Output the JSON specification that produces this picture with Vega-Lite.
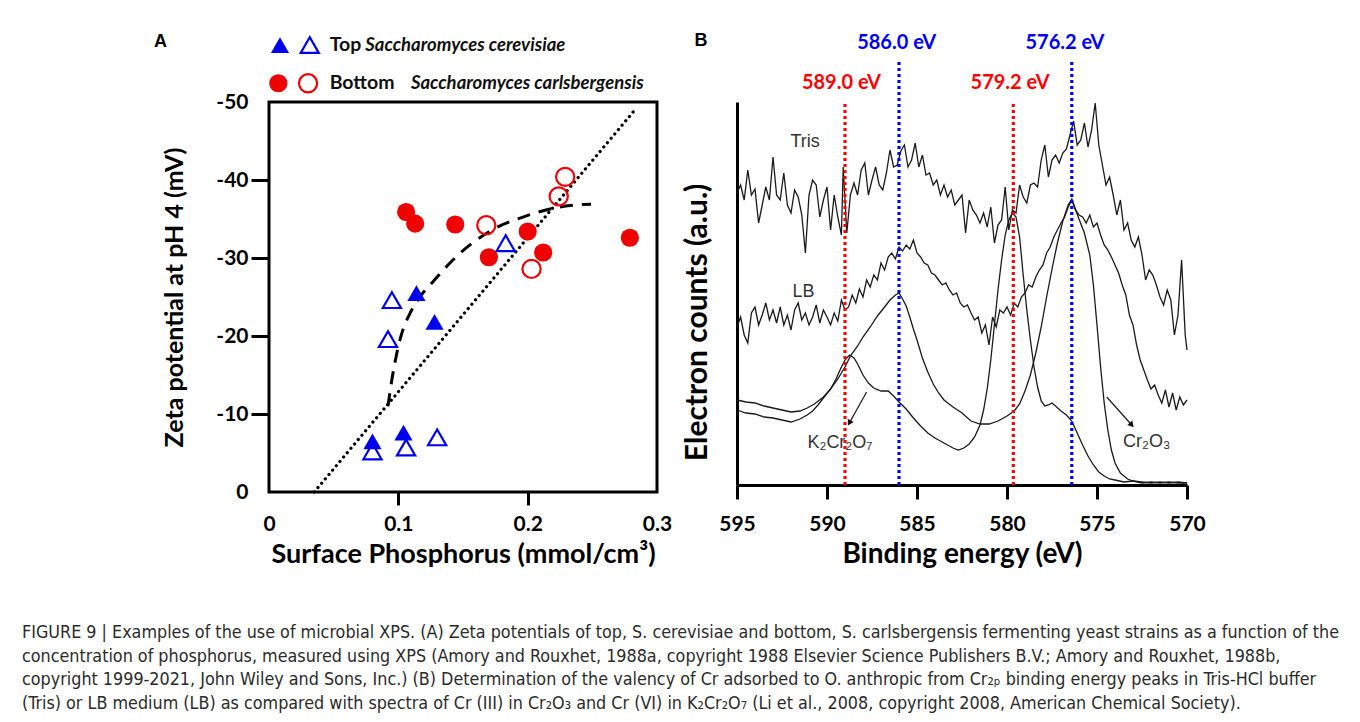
{
  "$schema": "https://vega.github.io/schema/vega-lite/v6.json",
  "autosize": {"type": "none"},
  "padding": {"left": 269, "top": 102, "right": 1091, "bottom": 620},
  "background": "white",
  "bounds": "flush",
  "spacing": 80,
  "resolve": {"scale": {"color": "independent", "shape": "independent"}},
  "config": {"font": "Lato", "view": {"stroke": null}},
  "title": {
    "text": [
      "FIGURE 9 | Examples of the use of microbial XPS. (A) Zeta potentials of top, S. cerevisiae and bottom, S. carlsbergensis fermenting yeast strains as a function of the",
      "concentration of phosphorus, measured using XPS (Amory and Rouxhet, 1988a, copyright 1988 Elsevier Science Publishers B.V.; Amory and Rouxhet, 1988b,",
      "copyright 1999-2021, John Wiley and Sons, Inc.) (B) Determination of the valency of Cr adsorbed to O. anthropic from Cr₂ₚ binding energy peaks in Tris-HCl buffer",
      "(Tris) or LB medium (LB) as compared with spectra of Cr (III) in Cr₂O₃ and Cr (VI) in K₂Cr₂O₇ (Li et al., 2008, copyright 2008, American Chemical Society)."
    ],
    "orient": "bottom",
    "anchor": "start",
    "frame": "group",
    "offset": 55.5,
    "dx": -247,
    "font": "Liberation Sans Narrow, DejaVu Sans Condensed, sans-serif",
    "fontSize": 17.8,
    "fontWeight": "normal",
    "color": "#2b2b2b",
    "lineHeight": 23.5
  },
  "datasets": {
    "points": [
      {"p": 0.106, "z": -35.9, "sp": "Bottom", "kind": "filled"},
      {"p": 0.113, "z": -34.4, "sp": "Bottom", "kind": "filled"},
      {"p": 0.144, "z": -34.3, "sp": "Bottom", "kind": "filled"},
      {"p": 0.170, "z": -30.1, "sp": "Bottom", "kind": "filled"},
      {"p": 0.200, "z": -33.4, "sp": "Bottom", "kind": "filled"},
      {"p": 0.212, "z": -30.7, "sp": "Bottom", "kind": "filled"},
      {"p": 0.279, "z": -32.6, "sp": "Bottom", "kind": "filled"},
      {"p": 0.168, "z": -34.2, "sp": "Bottom", "kind": "open"},
      {"p": 0.229, "z": -40.4, "sp": "Bottom", "kind": "open"},
      {"p": 0.224, "z": -37.9, "sp": "Bottom", "kind": "open"},
      {"p": 0.203, "z": -28.6, "sp": "Bottom", "kind": "open"},
      {"p": 0.114, "z": -25.5, "sp": "Top", "kind": "filled"},
      {"p": 0.128, "z": -21.8, "sp": "Top", "kind": "filled"},
      {"p": 0.080, "z": -6.5, "sp": "Top", "kind": "filled"},
      {"p": 0.104, "z": -7.6, "sp": "Top", "kind": "filled"},
      {"p": 0.095, "z": -24.6, "sp": "Top", "kind": "open"},
      {"p": 0.092, "z": -19.6, "sp": "Top", "kind": "open"},
      {"p": 0.183, "z": -31.9, "sp": "Top", "kind": "open"},
      {"p": 0.080, "z": -5.2, "sp": "Top", "kind": "open"},
      {"p": 0.106, "z": -5.7, "sp": "Top", "kind": "open"},
      {"p": 0.130, "z": -7.0, "sp": "Top", "kind": "open"}
    ],
    "legendSymbols": [
      {"p": 0.0085, "z": -57.3, "sp": "Top", "kind": "filled"},
      {"p": 0.0315, "z": -57.3, "sp": "Top", "kind": "open"},
      {"p": 0.0072, "z": -52.4, "sp": "Bottom", "kind": "filled"},
      {"p": 0.0302, "z": -52.4, "sp": "Bottom", "kind": "open"}
    ],
    "legendText": [
      {"p": 0.0469, "z": -57.3, "label": "Top", "part": "group"},
      {"p": 0.0745, "z": -57.3, "label": "Saccharomyces cerevisiae", "part": "species"},
      {"p": 0.0469, "z": -52.4, "label": "Bottom", "part": "group"},
      {"p": 0.1097, "z": -52.4, "label": "Saccharomyces carlsbergensis", "part": "species"}
    ],
    "fitLinear": [
      {"p": 0.035, "z": 0},
      {"p": 0.283, "z": -49}
    ],
    "fitCurve": [
      {"p": 0.092, "z": -11.0},
      {"p": 0.0949, "z": -14.3},
      {"p": 0.0987, "z": -17.7},
      {"p": 0.1026, "z": -20.3},
      {"p": 0.109, "z": -22.9},
      {"p": 0.1167, "z": -25.0},
      {"p": 0.127, "z": -27.0},
      {"p": 0.145, "z": -30.2},
      {"p": 0.1705, "z": -33.4},
      {"p": 0.199, "z": -35.4},
      {"p": 0.227, "z": -36.6},
      {"p": 0.249, "z": -36.9}
    ],
    "panelA": [{"p": -0.0838, "z": -57.7, "label": "A"}],
    "spectra": [
      {"s":"Tris","E":595.0,"c":292},{"s":"Tris","E":594.8,"c":300},{"s":"Tris","E":594.6,"c":285},{"s":"Tris","E":594.4,"c":315},{"s":"Tris","E":594.2,"c":290},
      {"s":"Tris","E":594.0,"c":296},{"s":"Tris","E":593.8,"c":262},{"s":"Tris","E":593.6,"c":280},{"s":"Tris","E":593.4,"c":298},{"s":"Tris","E":593.2,"c":285},
      {"s":"Tris","E":593.0,"c":328},{"s":"Tris","E":592.8,"c":290},{"s":"Tris","E":592.6,"c":285},{"s":"Tris","E":592.4,"c":312},{"s":"Tris","E":592.2,"c":280},
      {"s":"Tris","E":592.0,"c":272},{"s":"Tris","E":591.8,"c":295},{"s":"Tris","E":591.6,"c":288},{"s":"Tris","E":591.4,"c":270},{"s":"Tris","E":591.2,"c":232},
      {"s":"Tris","E":591.0,"c":290},{"s":"Tris","E":590.8,"c":305},{"s":"Tris","E":590.6,"c":300},{"s":"Tris","E":590.4,"c":268},{"s":"Tris","E":590.2,"c":285},
      {"s":"Tris","E":590.0,"c":298},{"s":"Tris","E":589.8,"c":255},{"s":"Tris","E":589.6,"c":290},{"s":"Tris","E":589.4,"c":268},{"s":"Tris","E":589.2,"c":250},
      {"s":"Tris","E":589.1,"c":318},{"s":"Tris","E":588.9,"c":252},{"s":"Tris","E":588.7,"c":290},{"s":"Tris","E":588.5,"c":302},{"s":"Tris","E":588.3,"c":290},
      {"s":"Tris","E":588.1,"c":315},{"s":"Tris","E":587.9,"c":322},{"s":"Tris","E":587.7,"c":290},{"s":"Tris","E":587.5,"c":305},{"s":"Tris","E":587.3,"c":318},
      {"s":"Tris","E":587.1,"c":300},{"s":"Tris","E":586.9,"c":295},{"s":"Tris","E":586.7,"c":312},{"s":"Tris","E":586.5,"c":335},{"s":"Tris","E":586.3,"c":318},
      {"s":"Tris","E":586.1,"c":320},{"s":"Tris","E":585.9,"c":334},{"s":"Tris","E":585.7,"c":340},{"s":"Tris","E":585.5,"c":318},{"s":"Tris","E":585.3,"c":325},
      {"s":"Tris","E":585.1,"c":342},{"s":"Tris","E":584.9,"c":318},{"s":"Tris","E":584.7,"c":330},{"s":"Tris","E":584.5,"c":310},{"s":"Tris","E":584.3,"c":312},
      {"s":"Tris","E":584.1,"c":300},{"s":"Tris","E":583.9,"c":305},{"s":"Tris","E":583.7,"c":290},{"s":"Tris","E":583.5,"c":300},{"s":"Tris","E":583.3,"c":288},
      {"s":"Tris","E":583.1,"c":295},{"s":"Tris","E":582.9,"c":280},{"s":"Tris","E":582.7,"c":285},{"s":"Tris","E":582.5,"c":290},{"s":"Tris","E":582.3,"c":252},
      {"s":"Tris","E":582.1,"c":285},{"s":"Tris","E":581.9,"c":275},{"s":"Tris","E":581.7,"c":270},{"s":"Tris","E":581.5,"c":262},{"s":"Tris","E":581.3,"c":272},
      {"s":"Tris","E":581.1,"c":258},{"s":"Tris","E":580.9,"c":278},{"s":"Tris","E":580.7,"c":242},{"s":"Tris","E":580.5,"c":260},{"s":"Tris","E":580.3,"c":265},
      {"s":"Tris","E":580.1,"c":298},{"s":"Tris","E":579.9,"c":255},{"s":"Tris","E":579.7,"c":275},{"s":"Tris","E":579.5,"c":272},{"s":"Tris","E":579.3,"c":300},
      {"s":"Tris","E":579.1,"c":288},{"s":"Tris","E":578.9,"c":282},{"s":"Tris","E":578.7,"c":300},{"s":"Tris","E":578.5,"c":302},{"s":"Tris","E":578.3,"c":298},
      {"s":"Tris","E":578.1,"c":325},{"s":"Tris","E":577.9,"c":340},{"s":"Tris","E":577.7,"c":308},{"s":"Tris","E":577.5,"c":325},{"s":"Tris","E":577.3,"c":330},
      {"s":"Tris","E":577.1,"c":322},{"s":"Tris","E":576.9,"c":332},{"s":"Tris","E":576.7,"c":336},{"s":"Tris","E":576.5,"c":350},{"s":"Tris","E":576.3,"c":364},
      {"s":"Tris","E":576.1,"c":340},{"s":"Tris","E":575.9,"c":345},{"s":"Tris","E":575.7,"c":362},{"s":"Tris","E":575.5,"c":338},{"s":"Tris","E":575.3,"c":355},
      {"s":"Tris","E":575.1,"c":382},{"s":"Tris","E":574.9,"c":340},{"s":"Tris","E":574.7,"c":320},{"s":"Tris","E":574.5,"c":300},{"s":"Tris","E":574.3,"c":308},
      {"s":"Tris","E":574.1,"c":290},{"s":"Tris","E":573.9,"c":270},{"s":"Tris","E":573.7,"c":285},{"s":"Tris","E":573.5,"c":255},{"s":"Tris","E":573.3,"c":262},
      {"s":"Tris","E":573.1,"c":245},{"s":"Tris","E":572.9,"c":238},{"s":"Tris","E":572.7,"c":248},{"s":"Tris","E":572.5,"c":230},{"s":"Tris","E":572.3,"c":205},
      {"s":"Tris","E":572.1,"c":215},{"s":"Tris","E":571.9,"c":210},{"s":"Tris","E":571.7,"c":200},{"s":"Tris","E":571.5,"c":188},{"s":"Tris","E":571.3,"c":180},
      {"s":"Tris","E":571.1,"c":195},{"s":"Tris","E":570.9,"c":185},{"s":"Tris","E":570.7,"c":150},{"s":"Tris","E":570.5,"c":170},{"s":"Tris","E":570.3,"c":225},
      {"s":"Tris","E":570.1,"c":150},{"s":"Tris","E":570.0,"c":135},

      {"s":"LB","E":595.0,"c":158},{"s":"LB","E":594.8,"c":168},{"s":"LB","E":594.6,"c":150},{"s":"LB","E":594.4,"c":142},{"s":"LB","E":594.2,"c":172},
      {"s":"LB","E":594.0,"c":178},{"s":"LB","E":593.8,"c":160},{"s":"LB","E":593.6,"c":170},{"s":"LB","E":593.4,"c":182},{"s":"LB","E":593.2,"c":165},
      {"s":"LB","E":593.0,"c":175},{"s":"LB","E":592.8,"c":162},{"s":"LB","E":592.6,"c":178},{"s":"LB","E":592.4,"c":160},{"s":"LB","E":592.2,"c":170},
      {"s":"LB","E":592.0,"c":155},{"s":"LB","E":591.8,"c":175},{"s":"LB","E":591.6,"c":182},{"s":"LB","E":591.4,"c":165},{"s":"LB","E":591.2,"c":172},
      {"s":"LB","E":591.0,"c":160},{"s":"LB","E":590.8,"c":168},{"s":"LB","E":590.6,"c":180},{"s":"LB","E":590.4,"c":162},{"s":"LB","E":590.2,"c":175},
      {"s":"LB","E":590.0,"c":168},{"s":"LB","E":589.8,"c":160},{"s":"LB","E":589.6,"c":172},{"s":"LB","E":589.4,"c":164},{"s":"LB","E":589.2,"c":185},
      {"s":"LB","E":589.0,"c":175},{"s":"LB","E":588.8,"c":178},{"s":"LB","E":588.6,"c":190},{"s":"LB","E":588.4,"c":182},{"s":"LB","E":588.2,"c":196},
      {"s":"LB","E":588.0,"c":188},{"s":"LB","E":587.8,"c":205},{"s":"LB","E":587.6,"c":198},{"s":"LB","E":587.4,"c":210},{"s":"LB","E":587.2,"c":205},
      {"s":"LB","E":587.0,"c":222},{"s":"LB","E":586.8,"c":215},{"s":"LB","E":586.6,"c":228},{"s":"LB","E":586.4,"c":232},{"s":"LB","E":586.2,"c":226},
      {"s":"LB","E":586.0,"c":238},{"s":"LB","E":585.8,"c":234},{"s":"LB","E":585.6,"c":240},{"s":"LB","E":585.4,"c":236},{"s":"LB","E":585.2,"c":245},
      {"s":"LB","E":585.0,"c":232},{"s":"LB","E":584.8,"c":228},{"s":"LB","E":584.6,"c":222},{"s":"LB","E":584.4,"c":220},{"s":"LB","E":584.2,"c":212},
      {"s":"LB","E":584.0,"c":210},{"s":"LB","E":583.8,"c":205},{"s":"LB","E":583.6,"c":200},{"s":"LB","E":583.4,"c":202},{"s":"LB","E":583.2,"c":195},
      {"s":"LB","E":583.0,"c":190},{"s":"LB","E":582.8,"c":192},{"s":"LB","E":582.6,"c":182},{"s":"LB","E":582.4,"c":178},{"s":"LB","E":582.2,"c":180},
      {"s":"LB","E":582.0,"c":172},{"s":"LB","E":581.8,"c":165},{"s":"LB","E":581.6,"c":168},{"s":"LB","E":581.4,"c":152},{"s":"LB","E":581.2,"c":160},
      {"s":"LB","E":581.0,"c":140},{"s":"LB","E":580.8,"c":168},{"s":"LB","E":580.6,"c":158},{"s":"LB","E":580.4,"c":175},{"s":"LB","E":580.2,"c":172},
      {"s":"LB","E":580.0,"c":178},{"s":"LB","E":579.8,"c":170},{"s":"LB","E":579.6,"c":182},{"s":"LB","E":579.4,"c":178},{"s":"LB","E":579.2,"c":188},
      {"s":"LB","E":579.0,"c":192},{"s":"LB","E":578.8,"c":200},{"s":"LB","E":578.6,"c":198},{"s":"LB","E":578.4,"c":208},{"s":"LB","E":578.2,"c":215},
      {"s":"LB","E":578.0,"c":220},{"s":"LB","E":577.8,"c":232},{"s":"LB","E":577.6,"c":238},{"s":"LB","E":577.4,"c":248},{"s":"LB","E":577.2,"c":255},
      {"s":"LB","E":577.0,"c":262},{"s":"LB","E":576.8,"c":268},{"s":"LB","E":576.6,"c":278},{"s":"LB","E":576.4,"c":285},{"s":"LB","E":576.2,"c":275},
      {"s":"LB","E":576.0,"c":270},{"s":"LB","E":575.8,"c":268},{"s":"LB","E":575.6,"c":262},{"s":"LB","E":575.4,"c":270},{"s":"LB","E":575.2,"c":258},
      {"s":"LB","E":575.0,"c":262},{"s":"LB","E":574.8,"c":250},{"s":"LB","E":574.6,"c":240},{"s":"LB","E":574.4,"c":235},{"s":"LB","E":574.2,"c":228},
      {"s":"LB","E":574.0,"c":220},{"s":"LB","E":573.8,"c":212},{"s":"LB","E":573.6,"c":200},{"s":"LB","E":573.4,"c":190},{"s":"LB","E":573.2,"c":170},
      {"s":"LB","E":573.0,"c":160},{"s":"LB","E":572.8,"c":140},{"s":"LB","E":572.6,"c":125},{"s":"LB","E":572.4,"c":115},{"s":"LB","E":572.2,"c":105},
      {"s":"LB","E":572.0,"c":96},{"s":"LB","E":571.8,"c":100},{"s":"LB","E":571.6,"c":90},{"s":"LB","E":571.4,"c":82},{"s":"LB","E":571.2,"c":95},
      {"s":"LB","E":571.0,"c":78},{"s":"LB","E":570.8,"c":92},{"s":"LB","E":570.6,"c":75},{"s":"LB","E":570.4,"c":88},{"s":"LB","E":570.2,"c":80},
      {"s":"LB","E":570.0,"c":85},

      {"s":"K2Cr2O7","E":595.0,"c":75},{"s":"K2Cr2O7","E":594.5,"c":72},{"s":"K2Cr2O7","E":594.0,"c":71},{"s":"K2Cr2O7","E":593.5,"c":68},
      {"s":"K2Cr2O7","E":593.0,"c":67},{"s":"K2Cr2O7","E":592.5,"c":65},{"s":"K2Cr2O7","E":592.0,"c":63},{"s":"K2Cr2O7","E":591.5,"c":66},
      {"s":"K2Cr2O7","E":591.1,"c":70},{"s":"K2Cr2O7","E":590.8,"c":74},{"s":"K2Cr2O7","E":590.5,"c":80},{"s":"K2Cr2O7","E":590.2,"c":87},
      {"s":"K2Cr2O7","E":589.8,"c":96},{"s":"K2Cr2O7","E":589.5,"c":106},{"s":"K2Cr2O7","E":589.2,"c":118},{"s":"K2Cr2O7","E":589.0,"c":125},
      {"s":"K2Cr2O7","E":588.75,"c":130},{"s":"K2Cr2O7","E":588.5,"c":127},{"s":"K2Cr2O7","E":588.3,"c":121},{"s":"K2Cr2O7","E":588.0,"c":110},
      {"s":"K2Cr2O7","E":587.7,"c":102},{"s":"K2Cr2O7","E":587.4,"c":97},{"s":"K2Cr2O7","E":587.0,"c":94},{"s":"K2Cr2O7","E":586.6,"c":94},
      {"s":"K2Cr2O7","E":586.3,"c":89},{"s":"K2Cr2O7","E":586.0,"c":83},{"s":"K2Cr2O7","E":585.6,"c":76},{"s":"K2Cr2O7","E":585.2,"c":67},
      {"s":"K2Cr2O7","E":584.8,"c":59},{"s":"K2Cr2O7","E":584.4,"c":52},{"s":"K2Cr2O7","E":584.0,"c":47},{"s":"K2Cr2O7","E":583.5,"c":42},
      {"s":"K2Cr2O7","E":583.0,"c":37},{"s":"K2Cr2O7","E":582.7,"c":35},{"s":"K2Cr2O7","E":582.4,"c":37},{"s":"K2Cr2O7","E":582.1,"c":41},
      {"s":"K2Cr2O7","E":581.8,"c":48},{"s":"K2Cr2O7","E":581.5,"c":60},{"s":"K2Cr2O7","E":581.3,"c":75},{"s":"K2Cr2O7","E":581.1,"c":96},
      {"s":"K2Cr2O7","E":580.9,"c":125},{"s":"K2Cr2O7","E":580.7,"c":160},{"s":"K2Cr2O7","E":580.5,"c":195},{"s":"K2Cr2O7","E":580.3,"c":225},
      {"s":"K2Cr2O7","E":580.1,"c":250},{"s":"K2Cr2O7","E":579.9,"c":265},{"s":"K2Cr2O7","E":579.7,"c":272},{"s":"K2Cr2O7","E":579.5,"c":268},
      {"s":"K2Cr2O7","E":579.3,"c":248},{"s":"K2Cr2O7","E":579.1,"c":210},{"s":"K2Cr2O7","E":578.9,"c":175},{"s":"K2Cr2O7","E":578.7,"c":145},
      {"s":"K2Cr2O7","E":578.5,"c":118},{"s":"K2Cr2O7","E":578.3,"c":98},{"s":"K2Cr2O7","E":578.1,"c":84},{"s":"K2Cr2O7","E":577.9,"c":79},
      {"s":"K2Cr2O7","E":577.7,"c":80},{"s":"K2Cr2O7","E":577.5,"c":82},{"s":"K2Cr2O7","E":577.3,"c":79},{"s":"K2Cr2O7","E":577.0,"c":74},
      {"s":"K2Cr2O7","E":576.7,"c":70},{"s":"K2Cr2O7","E":576.4,"c":64},{"s":"K2Cr2O7","E":576.1,"c":52},{"s":"K2Cr2O7","E":575.8,"c":40},
      {"s":"K2Cr2O7","E":575.5,"c":29},{"s":"K2Cr2O7","E":575.2,"c":20},{"s":"K2Cr2O7","E":574.9,"c":13},{"s":"K2Cr2O7","E":574.6,"c":9},
      {"s":"K2Cr2O7","E":574.3,"c":6},{"s":"K2Cr2O7","E":574.0,"c":5},{"s":"K2Cr2O7","E":573.5,"c":3},{"s":"K2Cr2O7","E":573.0,"c":4},
      {"s":"K2Cr2O7","E":572.5,"c":2},{"s":"K2Cr2O7","E":572.0,"c":3},{"s":"K2Cr2O7","E":571.5,"c":2},{"s":"K2Cr2O7","E":571.0,"c":3},
      {"s":"K2Cr2O7","E":570.5,"c":2},{"s":"K2Cr2O7","E":570.0,"c":2},

      {"s":"Cr2O3","E":595.0,"c":85},{"s":"Cr2O3","E":594.5,"c":83},{"s":"Cr2O3","E":594.0,"c":82},{"s":"Cr2O3","E":593.5,"c":79},
      {"s":"Cr2O3","E":593.0,"c":77},{"s":"Cr2O3","E":592.5,"c":75},{"s":"Cr2O3","E":592.0,"c":73},{"s":"Cr2O3","E":591.5,"c":74},
      {"s":"Cr2O3","E":591.1,"c":77},{"s":"Cr2O3","E":590.7,"c":81},{"s":"Cr2O3","E":590.2,"c":88},{"s":"Cr2O3","E":589.8,"c":96},
      {"s":"Cr2O3","E":589.4,"c":106},{"s":"Cr2O3","E":589.0,"c":118},{"s":"Cr2O3","E":588.7,"c":129},{"s":"Cr2O3","E":588.3,"c":139},
      {"s":"Cr2O3","E":588.0,"c":148},{"s":"Cr2O3","E":587.6,"c":158},{"s":"Cr2O3","E":587.2,"c":169},{"s":"Cr2O3","E":586.8,"c":178},
      {"s":"Cr2O3","E":586.5,"c":185},{"s":"Cr2O3","E":586.2,"c":190},{"s":"Cr2O3","E":586.0,"c":192},{"s":"Cr2O3","E":585.8,"c":186},
      {"s":"Cr2O3","E":585.6,"c":179},{"s":"Cr2O3","E":585.4,"c":168},{"s":"Cr2O3","E":585.2,"c":156},{"s":"Cr2O3","E":585.0,"c":145},
      {"s":"Cr2O3","E":584.7,"c":127},{"s":"Cr2O3","E":584.4,"c":113},{"s":"Cr2O3","E":584.1,"c":101},{"s":"Cr2O3","E":583.8,"c":92},
      {"s":"Cr2O3","E":583.5,"c":85},{"s":"Cr2O3","E":583.0,"c":78},{"s":"Cr2O3","E":582.5,"c":72},{"s":"Cr2O3","E":582.0,"c":64},
      {"s":"Cr2O3","E":581.5,"c":61},{"s":"Cr2O3","E":581.0,"c":61},{"s":"Cr2O3","E":580.5,"c":64},{"s":"Cr2O3","E":580.0,"c":69},
      {"s":"Cr2O3","E":579.6,"c":74},{"s":"Cr2O3","E":579.3,"c":81},{"s":"Cr2O3","E":579.0,"c":94},{"s":"Cr2O3","E":578.7,"c":110},
      {"s":"Cr2O3","E":578.4,"c":132},{"s":"Cr2O3","E":578.1,"c":158},{"s":"Cr2O3","E":577.8,"c":188},{"s":"Cr2O3","E":577.5,"c":216},
      {"s":"Cr2O3","E":577.2,"c":242},{"s":"Cr2O3","E":576.9,"c":264},{"s":"Cr2O3","E":576.6,"c":280},{"s":"Cr2O3","E":576.4,"c":286},
      {"s":"Cr2O3","E":576.2,"c":276},{"s":"Cr2O3","E":576.0,"c":266},{"s":"Cr2O3","E":575.7,"c":252},{"s":"Cr2O3","E":575.4,"c":230},
      {"s":"Cr2O3","E":575.2,"c":200},{"s":"Cr2O3","E":575.0,"c":160},{"s":"Cr2O3","E":574.8,"c":118},{"s":"Cr2O3","E":574.6,"c":82},
      {"s":"Cr2O3","E":574.4,"c":55},{"s":"Cr2O3","E":574.2,"c":35},{"s":"Cr2O3","E":574.0,"c":22},{"s":"Cr2O3","E":573.7,"c":12},
      {"s":"Cr2O3","E":573.3,"c":6},{"s":"Cr2O3","E":573.0,"c":4},{"s":"Cr2O3","E":572.5,"c":3},{"s":"Cr2O3","E":572.0,"c":2},
      {"s":"Cr2O3","E":571.5,"c":3},{"s":"Cr2O3","E":571.0,"c":2},{"s":"Cr2O3","E":570.5,"c":3},{"s":"Cr2O3","E":570.0,"c":2}
    ],
    "vlines": [
      {"E": 589.0, "c": 0, "top": 382, "state": "Cr(VI)"},
      {"E": 586.0, "c": 0, "top": 423, "state": "Cr(III)"},
      {"E": 579.65, "c": 0, "top": 382, "state": "Cr(VI)"},
      {"E": 576.4, "c": 0, "top": 423, "state": "Cr(III)"}
    ],
    "evLabels": [
      {"E": 589.2, "c": 402, "label": "589.0 eV", "state": "Cr(VI)"},
      {"E": 586.13, "c": 442, "label": "586.0 eV", "state": "Cr(III)"},
      {"E": 579.83, "c": 402, "label": "579.2 eV", "state": "Cr(VI)"},
      {"E": 576.78, "c": 442, "label": "576.2 eV", "state": "Cr(III)"}
    ],
    "curveLabels": [
      {"E": 591.22, "c": 343, "label": "Tris"},
      {"E": 591.31, "c": 193, "label": "LB"},
      {"E": 589.28, "c": 42, "label": "K₂Cr₂O₇"},
      {"E": 572.24, "c": 43, "label": "Cr₂O₃"}
    ],
    "arrows": [
      {"ref": "K2Cr2O7", "E": 587.8, "c": 93, "E2": 588.76, "c2": 62},
      {"ref": "Cr2O3", "E": 574.46, "c": 88, "E2": 573.07, "c2": 60}
    ],
    "panelB": [{"E": 597.0, "c": 444, "label": "B"}]
  },
  "hconcat": [
    {
      "width": 388,
      "height": 390,
      "view": {"stroke": "black", "strokeWidth": 3},
      "encoding": {
        "x": {
          "field": "p", "type": "quantitative",
          "scale": {"domain": [0, 0.3], "nice": false, "zero": false},
          "axis": {
            "title": "Surface Phosphorus (mmol/cm³)",
            "values": [0, 0.1, 0.2, 0.3], "format": "~g",
            "domain": false, "grid": false,
            "tickSize": 13, "tickWidth": 3, "tickColor": "black",
            "tickOpacity": {"condition": {"test": "datum.value == 0 || datum.value == 0.3", "value": 0}, "value": 1},
            "labelFont": "Lato", "labelFontSize": 21, "labelFontWeight": "bold", "labelColor": "black",
            "labelPadding": 8, "labelFlush": false,
            "titleFont": "Lato", "titleFontSize": 27, "titleFontWeight": "bold", "titleColor": "black", "titlePadding": 7
          }
        },
        "y": {
          "field": "z", "type": "quantitative",
          "scale": {"domain": [-50, 0], "reverse": true, "nice": false, "zero": false},
          "axis": {
            "title": "Zeta potential at pH 4 (mV)",
            "values": [0, -10, -20, -30, -40, -50],
            "labelExpr": "toString(datum.value)",
            "domain": false, "grid": false,
            "tickSize": 18, "tickWidth": 3, "tickColor": "black",
            "tickOpacity": {"condition": {"test": "datum.value == 0 || datum.value == -50", "value": 0}, "value": 1},
            "labelFont": "Lato", "labelFontSize": 21, "labelFontWeight": "bold", "labelColor": "black",
            "labelPadding": 3, "labelFlush": false,
            "titleFont": "Lato", "titleFontSize": 25, "titleFontWeight": "bold", "titleColor": "black", "titlePadding": 28
          }
        }
      },
      "layer": [
        {
          "data": {"name": "fitLinear"},
          "mark": {"type": "line", "color": "black", "strokeWidth": 3.2, "strokeDash": [0.1, 5.6], "strokeCap": "round"}
        },
        {
          "data": {"name": "fitCurve"},
          "mark": {"type": "line", "color": "black", "strokeWidth": 3, "strokeDash": [13, 9], "interpolate": "monotone"}
        },
        {
          "data": {"name": "points"},
          "transform": [{"filter": "datum.kind == 'filled'"}],
          "mark": {"type": "point", "filled": true, "size": 330, "opacity": 1},
          "encoding": {
            "shape": {"field": "sp", "type": "nominal", "scale": {"domain": ["Top", "Bottom"], "range": ["triangle-up", "circle"]}, "legend": null},
            "color": {"field": "sp", "type": "nominal", "scale": {"domain": ["Top", "Bottom"], "range": ["#0000f0", "#f00000"]}, "legend": null}
          }
        },
        {
          "data": {"name": "points"},
          "transform": [{"filter": "datum.kind == 'open'"}],
          "mark": {"type": "point", "filled": false, "size": 330, "strokeWidth": 2.2, "opacity": 1},
          "encoding": {
            "shape": {"field": "sp", "type": "nominal", "scale": {"domain": ["Top", "Bottom"], "range": ["triangle-up", "circle"]}, "legend": null},
            "color": {"field": "sp", "type": "nominal", "scale": {"domain": ["Top", "Bottom"], "range": ["#0000f0", "#f00000"]}, "legend": null}
          }
        },
        {
          "data": {"name": "legendSymbols"},
          "transform": [{"filter": "datum.kind == 'filled'"}],
          "mark": {"type": "point", "filled": true, "size": 330, "opacity": 1},
          "encoding": {
            "shape": {"field": "sp", "type": "nominal", "scale": {"domain": ["Top", "Bottom"], "range": ["triangle-up", "circle"]}, "legend": null},
            "color": {"field": "sp", "type": "nominal", "scale": {"domain": ["Top", "Bottom"], "range": ["#0000f0", "#f00000"]}, "legend": null}
          }
        },
        {
          "data": {"name": "legendSymbols"},
          "transform": [{"filter": "datum.kind == 'open'"}],
          "mark": {"type": "point", "filled": false, "size": 330, "strokeWidth": 2.2, "opacity": 1},
          "encoding": {
            "shape": {"field": "sp", "type": "nominal", "scale": {"domain": ["Top", "Bottom"], "range": ["triangle-up", "circle"]}, "legend": null},
            "color": {"field": "sp", "type": "nominal", "scale": {"domain": ["Top", "Bottom"], "range": ["#0000f0", "#f00000"]}, "legend": null}
          }
        },
        {
          "data": {"name": "legendText"},
          "transform": [{"filter": "datum.part == 'group'"}],
          "mark": {"type": "text", "align": "left", "baseline": "middle", "font": "Lato", "fontSize": 19.5, "fontWeight": "bold", "color": "#111111"},
          "encoding": {"text": {"field": "label"}}
        },
        {
          "data": {"name": "legendText"},
          "transform": [{"filter": "datum.part == 'species'"}],
          "mark": {"type": "text", "align": "left", "baseline": "middle", "font": "Lato", "fontSize": 18.5, "fontWeight": "bold", "fontStyle": "italic", "color": "#111111"},
          "encoding": {"text": {"field": "label"}}
        },
        {
          "data": {"name": "panelA"},
          "mark": {"type": "text", "align": "center", "baseline": "middle", "font": "Liberation Sans", "fontSize": 18, "fontWeight": "bold", "color": "black"},
          "encoding": {"text": {"field": "label"}}
        }
      ]
    },
    {
      "width": 450,
      "height": 383,
      "view": {"stroke": null},
      "encoding": {
        "x": {
          "field": "E", "type": "quantitative",
          "scale": {"domain": [570, 595], "reverse": true, "nice": false, "zero": false},
          "axis": {
            "title": "Binding energy (eV)",
            "values": [595, 590, 585, 580, 575, 570], "format": "d",
            "domain": true, "domainWidth": 3, "domainColor": "black", "grid": false,
            "tickSize": 14, "tickWidth": 3, "tickColor": "black",
            "labelFont": "Lato", "labelFontSize": 21, "labelFontWeight": "bold", "labelColor": "black",
            "labelPadding": 14, "labelFlush": false,
            "titleFont": "Lato", "titleFontSize": 28, "titleFontWeight": "bold", "titleColor": "black", "titlePadding": 6
          }
        },
        "y": {
          "field": "c", "type": "quantitative",
          "scale": {"domain": [0, 383], "nice": false, "zero": false},
          "axis": {
            "title": "Electron counts  (a.u.)",
            "domain": true, "domainWidth": 3, "domainColor": "black", "grid": false,
            "ticks": false, "labels": false,
            "titleFont": "Lato", "titleFontSize": 30, "titleFontWeight": "bold", "titleColor": "black",
            "titlePadding": 25, "titleY": 220
          }
        }
      },
      "layer": [
        {
          "data": {"name": "spectra"},
          "mark": {"type": "line", "color": "#1a1a1a", "strokeWidth": 1.3},
          "encoding": {"detail": {"field": "s", "type": "nominal"}}
        },
        {
          "data": {"name": "vlines"},
          "mark": {"type": "rule", "strokeWidth": 3.2, "strokeDash": [3, 3]},
          "encoding": {
            "y2": {"field": "top"},
            "color": {"field": "state", "type": "nominal", "scale": {"domain": ["Cr(VI)", "Cr(III)"], "range": ["#ff0000", "#0000ff"]}, "legend": null}
          }
        },
        {
          "data": {"name": "evLabels"},
          "mark": {"type": "text", "align": "center", "baseline": "middle", "font": "Lato", "fontSize": 20, "fontWeight": "bold"},
          "encoding": {
            "text": {"field": "label"},
            "color": {"field": "state", "type": "nominal", "scale": {"domain": ["Cr(VI)", "Cr(III)"], "range": ["#ff0000", "#0000ff"]}, "legend": null}
          }
        },
        {
          "data": {"name": "curveLabels"},
          "mark": {"type": "text", "align": "center", "baseline": "middle", "font": "Liberation Sans", "fontSize": 18, "color": "#333333"},
          "encoding": {"text": {"field": "label"}}
        },
        {
          "data": {"name": "arrows"},
          "mark": {"type": "rule", "color": "#222222", "strokeWidth": 1.3},
          "encoding": {
            "x2": {"field": "E2"},
            "y2": {"field": "c2"}
          }
        },
        {
          "data": {"name": "arrows"},
          "transform": [{"filter": "datum.ref == 'K2Cr2O7'"}],
          "mark": {"type": "point", "shape": "triangle-up", "filled": true, "size": 45, "angle": 208.6, "color": "#111111", "opacity": 1},
          "encoding": {
            "x": {"field": "E2", "type": "quantitative"},
            "y": {"field": "c2", "type": "quantitative"}
          }
        },
        {
          "data": {"name": "arrows"},
          "transform": [{"filter": "datum.ref == 'Cr2O3'"}],
          "mark": {"type": "point", "shape": "triangle-up", "filled": true, "size": 45, "angle": 138.6, "color": "#111111", "opacity": 1},
          "encoding": {
            "x": {"field": "E2", "type": "quantitative"},
            "y": {"field": "c2", "type": "quantitative"}
          }
        },
        {
          "data": {"name": "panelB"},
          "mark": {"type": "text", "align": "center", "baseline": "middle", "font": "Liberation Sans", "fontSize": 18, "fontWeight": "bold", "color": "black"},
          "encoding": {"text": {"field": "label"}}
        }
      ]
    }
  ]
}
